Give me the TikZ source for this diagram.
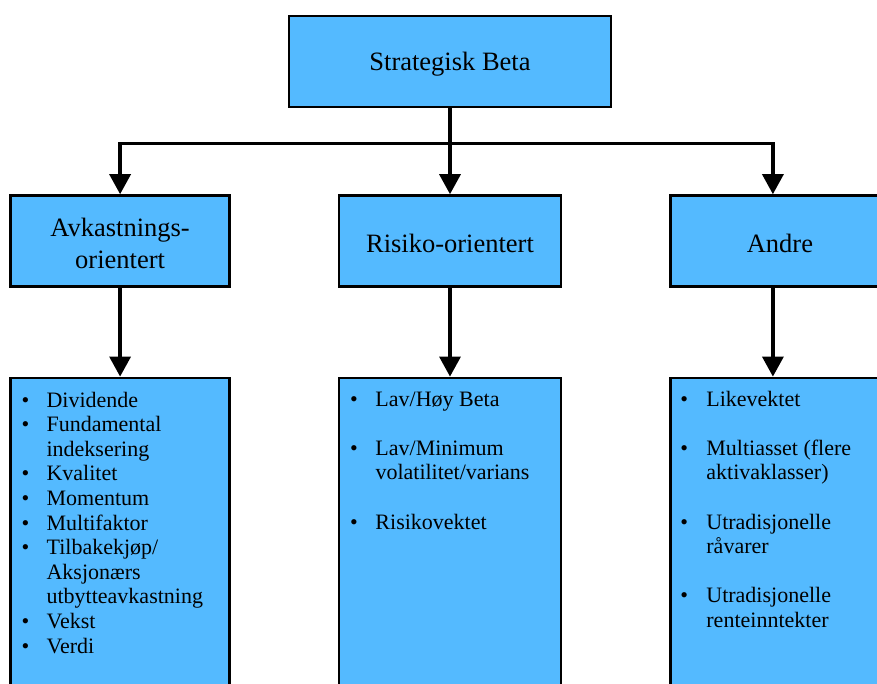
\documentclass[tikz,border=0pt]{standalone}
\usepackage{fontspec}
\setmainfont{Liberation Serif}
\usetikzlibrary{arrows.meta,positioning}
\definecolor{boxblue}{RGB}{84,186,255}
\tikzset{
  box/.style={draw=black, line width=2.4pt, fill=boxblue, inner sep=0pt,
    align=center, font=\fontsize{26.5}{32}\selectfont},
  arr/.style={line width=3.3pt, -{Triangle[width=21pt,length=20pt]}},
  list/.style={anchor=north west, inner sep=0pt, align=left,
    font=\fontsize{22}{24.6}\selectfont}
}
\newcommand{\punkt}{\textbullet}
\newcommand{\senk}[1]{\raisebox{-3pt}[\height][\depth]{#1}}

\begin{document}
\begin{tikzpicture}[x=1pt,y=-1pt]
\useasboundingbox (0,0) rectangle (877,684);
% toppboks
\node [box, minimum width=322pt, minimum height=91pt] (top) at (450,61.5) {\senk{Strategisk Beta}};
% midtre rad
\node [box, minimum width=222pt, minimum height=91pt, below=86pt of top] (risiko) {\senk{Risiko-orientert}};
\node [box, minimum width=219pt, minimum height=91pt, left=107pt of risiko] (avk) {\senk{Avkastnings-}\\\senk{orientert}};
\node [box, minimum width=219pt, minimum height=91pt, right=107pt of risiko] (andre) {\senk{Andre}};
% nederste rad
\node [box, minimum width=219pt, minimum height=330pt, below=89pt of avk] (liste1) {};
\node [box, minimum width=222pt, minimum height=330pt, below=89pt of risiko] (liste2) {};
\node [box, minimum width=219pt, minimum height=330pt, below=89pt of andre] (liste3) {};
% piler
\draw [arr] (top.south) -- (risiko.north);
\draw [arr] (top.south) -- ++(0,35) -| (avk.north);
\draw [arr] (top.south) -- ++(0,35) -| ([xshift=-7pt]andre.north);
\draw [arr] (avk.south) -- (liste1.north);
\draw [arr] (risiko.south) -- (liste2.north);
\draw [arr] ([xshift=-7pt]andre.south) -- ([xshift=-7pt]liste3.north);
% punktlister
\node [list] (punkter1) at ([xshift=12pt,yshift=-13pt]liste1.north west) {%
\begin{tabular}{@{}p{25pt}@{}l@{}}
\punkt & Dividende\\
\punkt & Fundamental\\
       & indeksering\\
\punkt & Kvalitet\\
\punkt & Momentum\\
\punkt & Multifaktor\\
\punkt & Tilbakekjøp/\\
       & Aksjonærs\\
       & utbytteavkastning\\
\punkt & Vekst\\
\punkt & Verdi
\end{tabular}};
\node [list] (punkter2) at ([xshift=12pt,yshift=-12pt]liste2.north west) {%
\begin{tabular}{@{}p{25.5pt}@{}l@{}}
\punkt & Lav/Høy Beta\\
       & \\
\punkt & Lav/Minimum\\
       & volatilitet/varians\\
       & \\
\punkt & Risikovektet
\end{tabular}};
\node [list] (punkter3) at ([xshift=11pt,yshift=-12pt]liste3.north west) {%
\begin{tabular}{@{}p{26pt}@{}l@{}}
\punkt & Likevektet\\
       & \\
\punkt & Multiasset (flere\\
       & aktivaklasser)\\
       & \\
\punkt & Utradisjonelle\\
       & råvarer\\
       & \\
\punkt & Utradisjonelle\\
       & renteinntekter
\end{tabular}};
\end{tikzpicture}
\end{document}
